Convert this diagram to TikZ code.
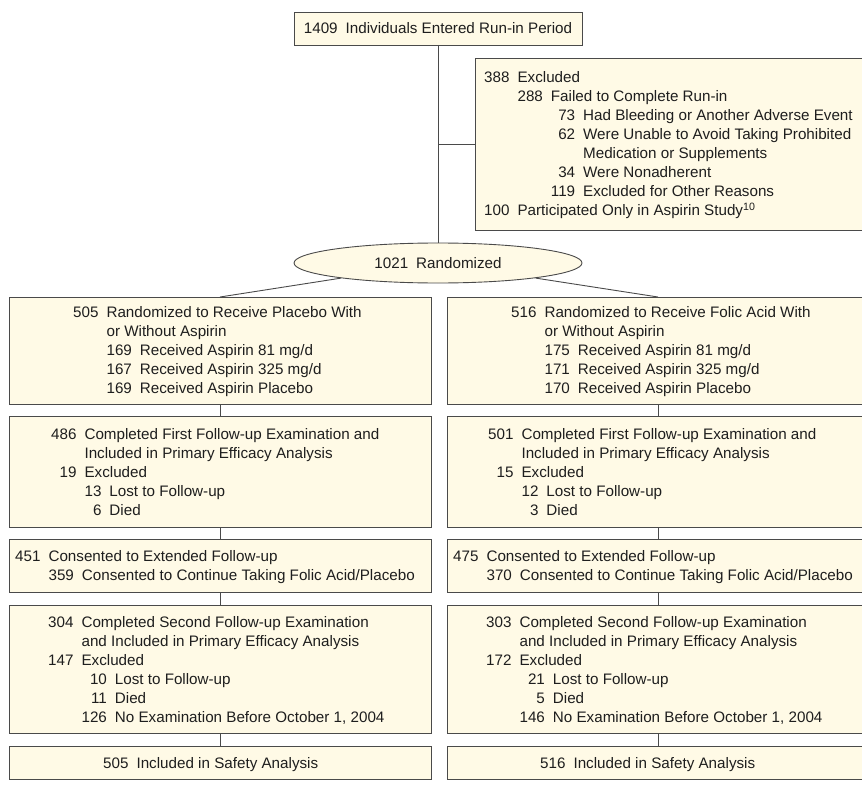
\documentclass[tikz,border=0pt]{standalone}
\usepackage{fontspec}
\setmainfont{Liberation Sans}
\usetikzlibrary{shapes.geometric}
\definecolor{cream}{HTML}{FFFAE6}
\definecolor{edge}{HTML}{4A4A4A}
\definecolor{ink}{HTML}{1E1E1E}
\newcommand\mc[2]{\multicolumn{#1}{@{}l@{}}{#2}}
\begin{document}
\begin{tikzpicture}[x=1pt,y=-1pt,
  every node/.style={font=\fontsize{15.2}{19}\selectfont, text=ink},
  box/.style={draw=edge, fill=cream, line width=0.9pt, anchor=north west, inner sep=0pt, outer sep=0pt},
  txt/.style={anchor=base west, inner sep=0pt},
  conn/.style={draw=edge, line width=0.9pt}]
\clip (0,0) rectangle (862,789);
\fill[white] (0,0) rectangle (862,789);

% top
\node[box, minimum width=288pt, minimum height=33pt] (top) at (294,12) {1409\hspace{8pt}Individuals Entered Run-in Period};
\node[box, minimum width=394pt, minimum height=172pt] (excl) at (475,58) {};
\node[txt] (texcl) at (484,83) {\begin{tabular}[t]{@{}r@{\hspace{8pt}}r@{\hspace{8pt}}r@{\hspace{8pt}}l@{}}
388 & \mc{3}{Excluded}\\
 & 288 & \mc{2}{Failed to Complete Run-in}\\
 & & 73 & Had Bleeding or Another Adverse Event\\
 & & 62 & Were Unable to Avoid Taking Prohibited\\
 & & & Medication or Supplements\\
 & & 34 & Were Nonadherent\\
 & & 119 & Excluded for Other Reasons\\
100 & \mc{3}{Participated Only in Aspirin Study\textsuperscript{10}}
\end{tabular}};

\node[draw=edge, fill=cream, line width=0.9pt, ellipse, minimum width=288pt, minimum height=40pt, inner sep=0pt] (ell) at (438,263) {1021\hspace{8pt}Randomized};

% left column
\node[box, minimum width=422pt, minimum height=107pt] (b1L) at (9,297) {};
\node[box, minimum width=422pt, minimum height=111pt] (b2L) at (9,416) {};
\node[box, minimum width=422pt, minimum height=53pt] (b3L) at (9,539) {};
\node[box, minimum width=422pt, minimum height=128pt] (b4L) at (9,605) {};
\node[box, minimum width=422pt, minimum height=33pt] (b5L) at (9,746) {};
% right column
\node[box, minimum width=422pt, minimum height=107pt] (b1R) at (447,297) {};
\node[box, minimum width=422pt, minimum height=111pt] (b2R) at (447,416) {};
\node[box, minimum width=422pt, minimum height=53pt] (b3R) at (447,539) {};
\node[box, minimum width=422pt, minimum height=128pt] (b4R) at (447,605) {};
\node[box, minimum width=422pt, minimum height=33pt] (b5R) at (447,746) {};

% connectors
\draw[conn] (top.south) -- (ell.north);
\draw[conn] (top.south |- excl.west) -- (excl.west);
\draw[conn] (ell) -- (b1L.north);
\draw[conn] (ell) -- (b1R.north);
\foreach \s in {L,R}{
  \draw[conn] (b1\s.south) -- (b2\s.north);
  \draw[conn] (b2\s.south) -- (b3\s.north);
  \draw[conn] (b3\s.south) -- (b4\s.north);
  \draw[conn] (b4\s.south) -- (b5\s.north);
}

% texts left
\node[txt] (t1L) at (73,317) {\begin{tabular}[t]{@{}r@{\hspace{8pt}}r@{\hspace{8pt}}l@{}}
505 & \mc{2}{Randomized to Receive Placebo With}\\
 & \mc{2}{or Without Aspirin}\\
 & 169 & Received Aspirin 81 mg/d\\
 & 167 & Received Aspirin 325 mg/d\\
 & 169 & Received Aspirin Placebo
\end{tabular}};
\node[txt] (t2L) at (51,439) {\begin{tabular}[t]{@{}r@{\hspace{8pt}}r@{\hspace{8pt}}l@{}}
486 & \mc{2}{Completed First Follow-up Examination and}\\
 & \mc{2}{Included in Primary Efficacy Analysis}\\
19 & \mc{2}{Excluded}\\
 & 13 & Lost to Follow-up\\
 & 6 & Died
\end{tabular}};
\node[txt] (t3L) at (15,561) {\begin{tabular}[t]{@{}r@{\hspace{8pt}}r@{\hspace{8pt}}l@{}}
451 & \mc{2}{Consented to Extended Follow-up}\\
 & 359 & Consented to Continue Taking Folic Acid/Placebo
\end{tabular}};
\node[txt] (t4L) at (48,627) {\begin{tabular}[t]{@{}r@{\hspace{8pt}}r@{\hspace{8pt}}l@{}}
304 & \mc{2}{Completed Second Follow-up Examination}\\
 & \mc{2}{and Included in Primary Efficacy Analysis}\\
147 & \mc{2}{Excluded}\\
 & 10 & Lost to Follow-up\\
 & 11 & Died\\
 & 126 & No Examination Before October 1, 2004
\end{tabular}};
\node[txt] (t5L) at (103,768) {505\hspace{8pt}Included in Safety Analysis};

% texts right
\node[txt] (t1R) at (511,317) {\begin{tabular}[t]{@{}r@{\hspace{8pt}}r@{\hspace{8pt}}l@{}}
516 & \mc{2}{Randomized to Receive Folic Acid With}\\
 & \mc{2}{or Without Aspirin}\\
 & 175 & Received Aspirin 81 mg/d\\
 & 171 & Received Aspirin 325 mg/d\\
 & 170 & Received Aspirin Placebo
\end{tabular}};
\node[txt] (t2R) at (488,439) {\begin{tabular}[t]{@{}r@{\hspace{8pt}}r@{\hspace{8pt}}l@{}}
501 & \mc{2}{Completed First Follow-up Examination and}\\
 & \mc{2}{Included in Primary Efficacy Analysis}\\
15 & \mc{2}{Excluded}\\
 & 12 & Lost to Follow-up\\
 & 3 & Died
\end{tabular}};
\node[txt] (t3R) at (453,561) {\begin{tabular}[t]{@{}r@{\hspace{8pt}}r@{\hspace{8pt}}l@{}}
475 & \mc{2}{Consented to Extended Follow-up}\\
 & 370 & Consented to Continue Taking Folic Acid/Placebo
\end{tabular}};
\node[txt] (t4R) at (486,627) {\begin{tabular}[t]{@{}r@{\hspace{8pt}}r@{\hspace{8pt}}l@{}}
303 & \mc{2}{Completed Second Follow-up Examination}\\
 & \mc{2}{and Included in Primary Efficacy Analysis}\\
172 & \mc{2}{Excluded}\\
 & 21 & Lost to Follow-up\\
 & 5 & Died\\
 & 146 & No Examination Before October 1, 2004
\end{tabular}};
\node[txt] (t5R) at (540,768) {516\hspace{8pt}Included in Safety Analysis};
\end{tikzpicture}
\end{document}
